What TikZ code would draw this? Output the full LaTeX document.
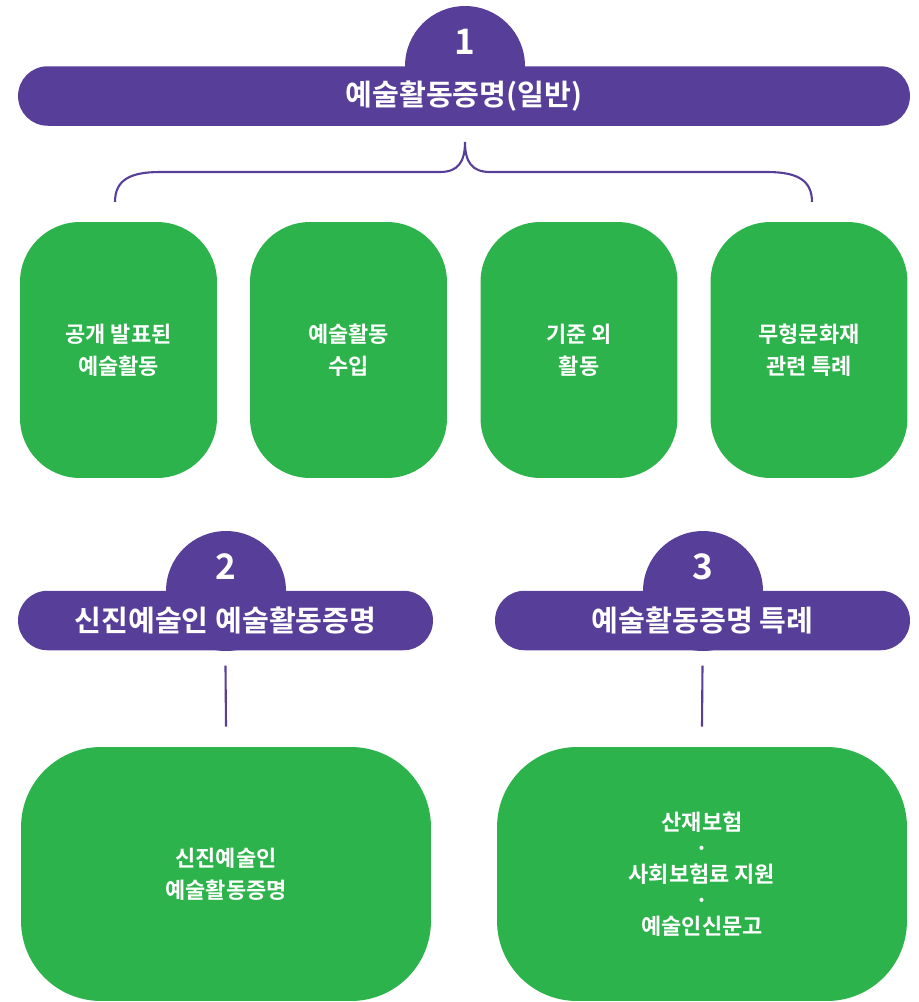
\documentclass[tikz,border=0pt]{standalone}
\usepackage{fontspec}
\setmainfont{Noto Sans CJK KR}[BoldFont={Noto Sans CJK KR Bold}]
\definecolor{artpurple}{HTML}{573F99}
\definecolor{artgreen}{HTML}{2DB34B}
\begin{document}
\begin{tikzpicture}[x=0.02cm,y=-0.02cm,
    bar/.style={fill=artpurple,text=white,rounded corners=0.59cm,minimum height=1.19cm,inner sep=0pt,font=\bfseries\fontsize{16.6}{19}\selectfont},
    tab/.style={circle,fill=artpurple,minimum size=2.4cm,inner sep=0pt},
    num/.style={text=white,inner sep=0pt,font=\bfseries\fontsize{20}{23}\selectfont},
    box/.style={fill=artgreen,text=white,align=center,inner sep=0pt,font=\bfseries\fontsize{12.5}{18}\selectfont},
    smallbox/.style={box,minimum width=3.94cm,minimum height=5.12cm,rounded corners=1.2cm},
    bigbox/.style={box,minimum width=8.2cm,minimum height=5.08cm,rounded corners=1.6cm},
    link/.style={draw=artpurple,line width=1.2pt}]
  \useasboundingbox (0,0) rectangle (919,1002);
  % section 1
  \node[tab] (tab1) at (465,66) {};
  \node[bar,minimum width=17.84cm] (title) at (464,96) {예술활동증명(일반)};
  \node[num] (num1) at (465,42) {1};
  \draw[link] (115,202) .. controls (115,180) and (130,172) .. (160,172) -- (440,172)
    .. controls (458,172) and (465,162) .. (465,142)
    .. controls (465,162) and (472,172) .. (490,172) -- (767,172)
    .. controls (797,172) and (812,180) .. (812,202);
  \foreach \i/\x/\txt in {1/118.5/{공개 발표된\\예술활동},2/348.5/{예술활동\\수입},3/579/{기준 외\\활동},4/809/{무형문화재\\관련 특례}}
    \node[smallbox] (act\i) at (\x,350) {\txt};
  % section 2
  \node[tab] (tab2) at (226,591) {};
  \node[bar,minimum width=8.3cm] (newbar) at (225.5,620.5) {신진예술인 예술활동증명};
  \node[num] (num2) at (226,567) {2};
  \node[bigbox] (newcert) at (226,874) {신진예술인\\예술활동증명};
  \draw[link] ([yshift=-0.3cm]newbar.south) -- ([yshift=0.4cm]newcert.north);
  % section 3
  \node[tab] (tab3) at (703,591) {};
  \node[bar,minimum width=8.3cm] (specbar) at (702.5,620.5) {예술활동증명 특례};
  \node[num] (num3) at (703,567) {3};
  \node[bigbox,font=\bfseries\fontsize{12.5}{14.8}\selectfont] (spec) at (702,874) {산재보험\\·\\사회보험료 지원\\·\\예술인신문고};
  \draw[link] ([yshift=-0.3cm]specbar.south) -- ([yshift=0.4cm]spec.north);
\end{tikzpicture}
\end{document}
